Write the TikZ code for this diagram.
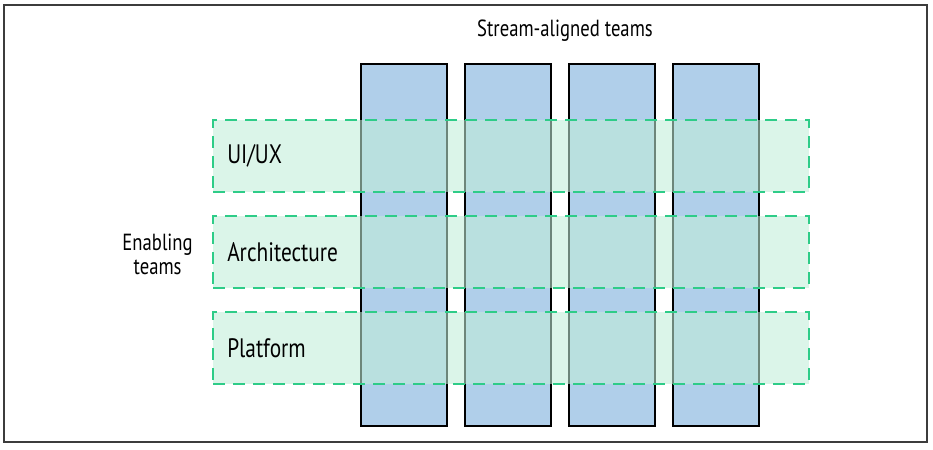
\documentclass[tikz,border=0pt]{standalone}
\usepackage{fontspec}
\usepackage{tikz}
\usetikzlibrary{positioning}
\newfontfamily\teamfont[FakeStretch=0.8]{PT Sans}
\definecolor{streamblue}{RGB}{176,207,234}
\definecolor{enablefill}{RGB}{192,237,216}
\definecolor{enabledash}{RGB}{46,204,136}
\definecolor{framegray}{RGB}{60,60,60}
\tikzstyle{frame} = [draw=framegray,line width=1.2pt]
\tikzstyle{stream} = [draw=black,line width=2pt,fill=streamblue,minimum width=64.5pt,minimum height=271.5pt,inner sep=0pt,outer sep=0pt]
\tikzstyle{band} = [draw=enabledash,line width=1.6pt,dash pattern=on 9pt off 6pt,fill=enablefill,fill opacity=0.57,minimum width=447pt,minimum height=54pt,inner sep=0pt,outer sep=0pt]
\tikzstyle{teamlabel} = [font=\teamfont\fontsize{17.5}{18}\selectfont,align=center,inner sep=0pt]
\tikzstyle{bandtext} = [font=\teamfont\fontsize{20}{22}\selectfont,inner sep=0pt]

\begin{document}
\begin{tikzpicture}[x=0.75pt,y=-0.75pt]
	\useasboundingbox (0,0) rectangle (933,450);
	\draw[frame] (4,5) rectangle (927,442);
	
	%Stream-aligned teams
	\node [stream] (s1) at (404,245) {};
	\node [stream, right=13.5pt of s1] (s2) {};
	\node [stream, right=13.5pt of s2] (s3) {};
	\node [stream, right=13.5pt of s3] (s4) {};
	\node [teamlabel] (stl) at (565,31) {Stream-aligned teams};
	
	%Enabling teams
	\node [band] (ux) at (511,156) {};
	\node [band, below=18pt of ux] (arch) {};
	\node [band, below=18pt of arch] (plat) {};
	\node [bandtext, right=10.5pt of ux.west] (uxl) {UI/UX};
	\node [bandtext, right=10.5pt of arch.west] (archl) {Architecture};
	\node [bandtext, right=10.5pt of plat.west] (platl) {Platform};
	\node [teamlabel, left=15pt of arch, yshift=-2pt] (enl) {Enabling\\teams};
	
\end{tikzpicture}
\end{document}
